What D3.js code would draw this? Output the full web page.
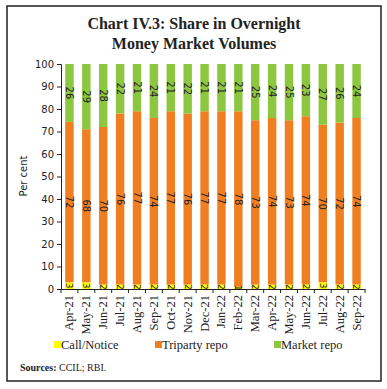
<!DOCTYPE html>
<html><head><meta charset="utf-8">
<script src="https://cdn.jsdelivr.net/npm/d3@7/dist/d3.min.js"></script>
<style>body{margin:0;background:#fff}</style>
</head><body><svg id="c" width="387" height="389"></svg>
<script>
const months=["Apr-21","May-21","Jun-21","Jul-21","Aug-21","Sep-21","Oct-21","Nov-21","Dec-21","Jan-22","Feb-22","Mar-22","Apr-22","May-22","Jun-22","Jul-22","Aug-22","Sep-22"];
const callNotice=[3,3,2,2,2,2,2,2,2,2,1,2,2,2,2,3,2,2];
const triparty=[72,68,70,76,77,74,77,76,77,77,78,73,74,73,74,70,72,74];
const marketRepo=[26,29,28,22,21,24,21,22,21,21,21,25,24,25,23,27,26,24];
const yTicks=[0,10,20,30,40,50,60,70,80,90,100];
const seriesNames=["Call/Notice","Triparty repo","Market repo"];
const colors=["#ffff00","#f07f22","#8dc63f"];

const svg=d3.select("#c");
svg.append("rect").attr("x",7).attr("y",6).attr("width",374).attr("height",375).attr("fill","none").attr("stroke","#222").attr("stroke-width",1.5);
const tf="'Liberation Serif',serif";
svg.append("text").attr("x",194).attr("y",29).attr("text-anchor","middle").attr("font-family",tf).attr("font-weight","bold").attr("font-size",16).attr("fill","#222").text("Chart IV.3: Share in Overnight");
svg.append("text").attr("x",194).attr("y",49).attr("text-anchor","middle").attr("font-family",tf).attr("font-weight","bold").attr("font-size",16).attr("fill","#222").text("Money Market Volumes");

const rows=months.map((m,i)=>({m,c:callNotice[i],t:triparty[i],k:marketRepo[i]}));
const stack=d3.stack().keys(["c","t","k"]).offset(d3.stackOffsetExpand)(rows);
const x=d3.scaleBand().domain(months).range([61,365]).paddingInner(0.5).paddingOuter(0.25);
const y=d3.scaleLinear().domain([0,100]).range([289,64]);

const g=svg.append("g");
stack.forEach((s,si)=>{
  g.selectAll(null).data(s).enter().append("rect")
   .attr("x",d=>x(d.data.m)).attr("width",x.bandwidth())
   .attr("y",d=>y(d[1]*100)).attr("height",d=>y(d[0]*100)-y(d[1]*100))
   .attr("fill",colors[si]);
});
stack.forEach((s,si)=>{
  g.selectAll(null).data(s).enter().append("text")
   .attr("transform",d=>`translate(${x(d.data.m)+x.bandwidth()/2},${(y(d[0]*100)+y(d[1]*100))/2}) rotate(90)`)
   .attr("text-anchor","middle").attr("dy","0.35em")
   .attr("font-family","'DejaVu Sans',sans-serif").attr("font-size",si===0?9:10).attr("fill","#222")
   .text(d=>d.data[s.key]);
});

// y axis
const ya=svg.append("g").attr("transform","translate(61,0)").call(d3.axisLeft(y).tickValues(yTicks).tickSize(4).tickPadding(3));
ya.select(".domain").attr("stroke","#222");
ya.selectAll("line").attr("stroke","#222");
ya.selectAll("text").attr("font-family","'DejaVu Sans',sans-serif").attr("font-size",10).attr("fill","#222");
svg.append("text").attr("transform","translate(27,176) rotate(-90)").attr("text-anchor","middle").attr("font-family","'DejaVu Sans',sans-serif").attr("font-size",10).attr("fill","#222").text("Per cent");

// x axis
const xa=svg.append("g").attr("transform","translate(0,289)").call(d3.axisBottom(x).tickSize(0).tickPadding(6));
xa.select(".domain").attr("stroke","#222");
xa.selectAll("text").attr("font-family",tf).attr("font-size",12.5).attr("fill","#222")
  .attr("transform","rotate(-90)").attr("text-anchor","end").attr("dx","-6").attr("dy","0.32em").attr("y",0);
const bounds=months.map((m,i)=>x(m)-x.bandwidth()*0.5).concat([365]);
svg.append("g").selectAll("line").data(bounds).enter().append("line")
  .attr("x1",d=>d).attr("x2",d=>d).attr("y1",289).attr("y2",293).attr("stroke","#222");

// legend
const lx=[54,155,274];
seriesNames.forEach((n,i)=>{
  svg.append("rect").attr("x",lx[i]).attr("y",341).attr("width",7).attr("height",7).attr("fill",colors[i]);
  svg.append("text").attr("x",lx[i]+7).attr("y",349).attr("font-family",tf).attr("font-size",12.5).attr("fill","#222").text(n);
});
const st=svg.append("text").attr("x",20).attr("y",371).attr("font-family",tf).attr("font-size",10).attr("fill","#222");
st.append("tspan").attr("font-weight","bold").text("Sources: ");
st.append("tspan").text("CCIL; RBI.");
</script></body></html>
